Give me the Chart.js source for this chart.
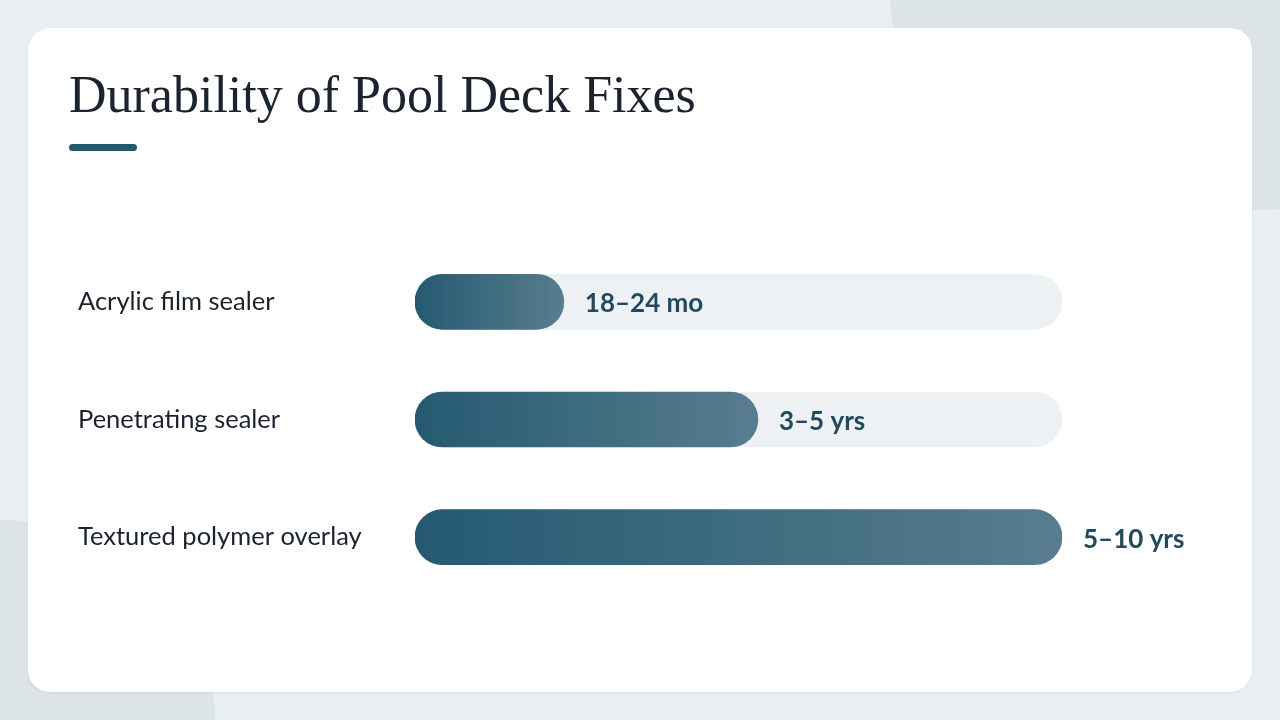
<!DOCTYPE html>
<html>
<head>
<meta charset="utf-8">
<script src="https://cdn.jsdelivr.net/npm/chart.js@4.4.1/dist/chart.umd.min.js"></script>
<style>
  html, body { margin: 0; padding: 0; }
  body {
    width: 1280px; height: 720px; overflow: hidden; position: relative;
    background: #e9eef1;
  }
  .blob { position: absolute; background: #dde4e8; border-radius: 50%; }
  .blob.tr { left: 890px; top: -210px; width: 720px; height: 420px; }
  .blob.bl { left: -215px; top: 520px; width: 430px; height: 400px; }
  .card {
    position: absolute; left: 28px; top: 28px; width: 1224px; height: 664px;
    background: #ffffff; border-radius: 22px;
    box-shadow: 0 1px 3px rgba(40, 60, 80, 0.06);
  }
  h1 {
    position: absolute; left: 69px; top: 65px; margin: 0;
    font-family: "Liberation Serif", serif; font-weight: normal;
    font-size: 52px; line-height: 60px; color: #1b2230; white-space: nowrap;
  }
  .rule {
    position: absolute; left: 69px; top: 144px; width: 68px; height: 7px;
    border-radius: 4px; background: #245a71;
  }
  .wrap { position: absolute; left: 0; top: 0; width: 1280px; height: 720px; }
</style>
</head>
<body>
<div class="blob tr"></div>
<div class="blob bl"></div>
<div class="card"></div>
<h1>Durability of Pool Deck Fixes</h1>
<div class="rule"></div>
<div class="wrap"><canvas id="durability"></canvas></div>
<script>
const categories = ['Acrylic film sealer', 'Penetrating sealer', 'Textured polymer overlay'];
const durationValues = [2.3, 5.3, 10];
const durationLabels = ['18–24 mo', '3–5 yrs', '5–10 yrs'];
const trackValues = [10, 10, 10];
const scaleMax = 10;

const barLeft = '#245a71';
const barRight = '#587d8e';

function barGradient(ctx) {
  const chart = ctx.chart;
  if (!chart.chartArea) return barLeft;
  const xScale = chart.scales.x;
  const value = ctx.dataset.data[ctx.dataIndex] || 0;
  const x0 = xScale.getPixelForValue(0);
  const x1 = xScale.getPixelForValue(value);
  const g = chart.ctx.createLinearGradient(x0, 0, Math.max(x1, x0 + 1), 0);
  g.addColorStop(0, barLeft);
  g.addColorStop(1, barRight);
  return g;
}

const valueLabels = {
  id: 'valueLabels',
  afterDatasetsDraw(chart) {
    const meta = chart.getDatasetMeta(0);
    const c = chart.ctx;
    c.save();
    c.font = '700 26px Lato';
    c.fillStyle = '#1f4a5f';
    c.textAlign = 'left';
    c.textBaseline = 'middle';
    meta.data.forEach((bar, i) => {
      c.fillText(durationLabels[i], bar.x + 21, bar.y + 2);
    });
    c.restore();
  },
};

new Chart(document.getElementById('durability'), {
  type: 'bar',
  plugins: [valueLabels],
  options: {
    indexAxis: 'y',
    responsive: true,
    maintainAspectRatio: false,
    animation: false,
    layout: {
      padding: { left: 78, right: 218, top: 243, bottom: 124 },
    },
    plugins: {
      legend: { display: false },
      tooltip: { enabled: false },
    },
    scales: {
      x: {
        display: false,
        min: 0,
        max: scaleMax,
      },
      y: {
        grid: { display: false },
        border: { display: false },
        ticks: {
          crossAlign: 'far',
          color: '#1a2230',
          font: { family: 'Lato', size: 25.5 },
        },
        afterFit(scale) {
          scale.width = 337;
        },
      },
    },
  },
  data: {
    labels: categories,
    datasets: [
      {
        label: 'Durability',
        data: durationValues,
        backgroundColor: barGradient,
        barThickness: 55,
        borderRadius: 28,
        borderSkipped: false,
        grouped: false,
        order: 1,
      },
      {
        label: 'Track',
        data: trackValues,
        backgroundColor: '#edf1f4',
        barThickness: 55,
        borderRadius: 28,
        borderSkipped: false,
        grouped: false,
        order: 2,
      },
    ],
  },
});
</script>
</body>
</html>
